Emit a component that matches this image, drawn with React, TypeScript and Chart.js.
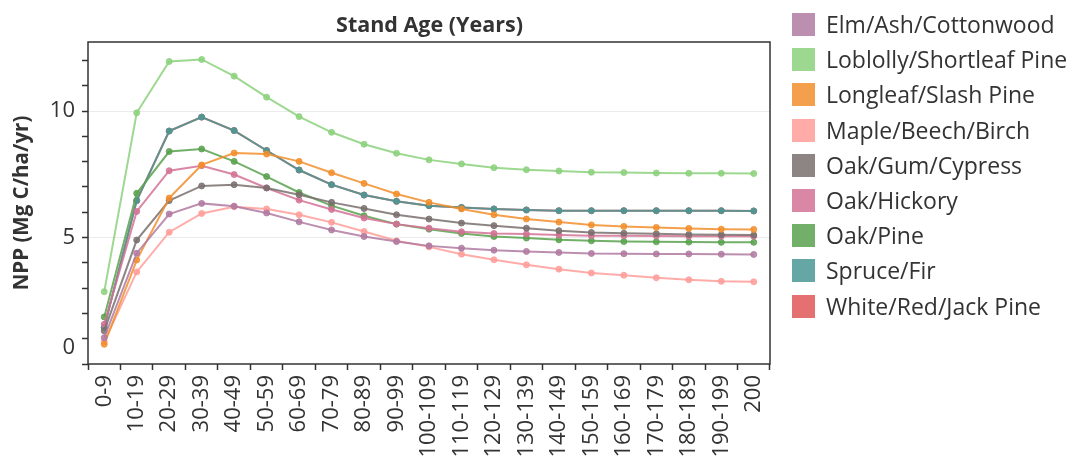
import React, { useEffect, useRef } from "react";
import { Chart, registerables } from "chart.js";

Chart.register(...registerables);

// ---------- data ----------
const ageClasses = [
  "0-9", "10-19", "20-29", "30-39", "40-49", "50-59", "60-69", "70-79", "80-89", "90-99",
  "100-109", "110-119", "120-129", "130-139", "140-149", "150-159", "160-169", "170-179",
  "180-189", "190-199", "200",
];

const elmAshCottonwood = [1.04, 4.38, 5.93, 6.35, 6.24, 5.97, 5.62, 5.30, 5.04, 4.84, 4.67, 4.58, 4.50, 4.45, 4.41, 4.37, 4.36, 4.35, 4.35, 4.34, 4.33];
const loblollyShortleafPine = [2.86, 9.93, 11.96, 12.04, 11.38, 10.55, 9.78, 9.16, 8.69, 8.33, 8.07, 7.91, 7.76, 7.68, 7.63, 7.58, 7.57, 7.55, 7.54, 7.54, 7.53];
const longleafSlashPine = [0.78, 4.11, 6.56, 7.87, 8.34, 8.30, 8.01, 7.56, 7.14, 6.72, 6.39, 6.13, 5.90, 5.73, 5.61, 5.50, 5.44, 5.40, 5.36, 5.33, 5.32];
const mapleBeechBirch = [0.88, 3.64, 5.21, 5.95, 6.22, 6.13, 5.90, 5.60, 5.24, 4.87, 4.63, 4.34, 4.12, 3.92, 3.75, 3.60, 3.51, 3.41, 3.33, 3.27, 3.25];
const oakGumCypress = [1.31, 4.90, 6.46, 7.04, 7.09, 6.96, 6.69, 6.39, 6.15, 5.90, 5.73, 5.57, 5.47, 5.37, 5.27, 5.20, 5.17, 5.15, 5.12, 5.11, 5.10];
const oakHickory = [1.57, 6.03, 7.64, 7.84, 7.49, 6.96, 6.48, 6.11, 5.77, 5.53, 5.37, 5.23, 5.16, 5.14, 5.10, 5.07, 5.07, 5.06, 5.05, 5.05, 5.05];
const oakPine = [1.86, 6.75, 8.40, 8.50, 8.01, 7.41, 6.78, 6.26, 5.86, 5.53, 5.33, 5.16, 5.04, 4.98, 4.91, 4.87, 4.84, 4.83, 4.82, 4.81, 4.81];
const spruceFir = [1.45, 6.46, 9.21, 9.76, 9.23, 8.44, 7.67, 7.09, 6.68, 6.43, 6.26, 6.19, 6.13, 6.09, 6.06, 6.06, 6.06, 6.06, 6.06, 6.06, 6.05];
const whiteRedJackPine = [1.45, 6.46, 9.21, 9.76, 9.23, 8.44, 7.67, 7.09, 6.68, 6.43, 6.26, 6.19, 6.13, 6.09, 6.06, 6.06, 6.06, 6.06, 6.06, 6.06, 6.05];

const seriesNames = [
  "Elm/Ash/Cottonwood",
  "Loblolly/Shortleaf Pine",
  "Longleaf/Slash Pine",
  "Maple/Beech/Birch",
  "Oak/Gum/Cypress",
  "Oak/Hickory",
  "Oak/Pine",
  "Spruce/Fir",
  "White/Red/Jack Pine",
];
const seriesValues = [
  elmAshCottonwood,
  loblollyShortleafPine,
  longleafSlashPine,
  mapleBeechBirch,
  oakGumCypress,
  oakHickory,
  oakPine,
  spruceFir,
  whiteRedJackPine,
];
const seriesColors = [
  "176,122,161",
  "140,209,125",
  "242,142,43",
  "255,157,154",
  "121,112,110",
  "211,114,149",
  "89,161,79",
  "73,152,148",
  "225,87,89",
];

const chartTitle = "Stand Age (Years)";
const yAxisTitle = "NPP (Mg C/ha/yr)";
const yTickLabels = [0, 5, 10];
const yMin = 0;
const yMax = 12.73;

const FONT = "'Open Sans', 'Noto Sans', sans-serif";
const TEXT = "#333333";

const frameAndLabels = {
  id: "frameAndLabels",
  beforeDatasetsDraw(chart: any) {
    const { ctx, chartArea: a } = chart;
    ctx.save();
    ctx.strokeStyle = "#333333";
    ctx.lineWidth = 1.5;
    ctx.strokeRect(a.left, a.top, a.right - a.left, a.bottom - a.top);
    ctx.restore();
  },
  afterDraw(chart: any) {
    const { ctx, chartArea: a } = chart;
    const y = chart.scales.y;
    ctx.save();
    ctx.font = `22px ${FONT}`;
    ctx.fillStyle = TEXT;
    ctx.textAlign = "right";
    ctx.textBaseline = "middle";
    for (const v of yTickLabels) {
      const py = Math.min(y.getPixelForValue(v), a.bottom - 16);
      ctx.fillText(String(v), y.right - 13, py);
    }
    ctx.restore();
  },
};

export default function App() {
  const ref = useRef<HTMLCanvasElement | null>(null);

  useEffect(() => {
    document.body.style.margin = "0";
    const canvas = ref.current;
    if (!canvas) return;
    const chart = new Chart(canvas, {
      type: "line",
      data: {
        labels: ageClasses,
        datasets: seriesNames.map((name, i) => ({
          label: name,
          data: seriesValues[i],
          borderColor: `rgba(${seriesColors[i]},0.85)`,
          backgroundColor: `rgba(${seriesColors[i]},0.85)`,
          pointBackgroundColor: `rgba(${seriesColors[i]},0.85)`,
          pointBorderColor: `rgba(${seriesColors[i]},0.85)`,
          borderWidth: 2,
          pointRadius: 3,
          pointBorderWidth: 1,
          pointHoverRadius: 3,
          tension: 0,
          fill: false,
        })),
      },
      options: {
        animation: false,
        responsive: false,
        devicePixelRatio: 1,
        events: [],
        layout: { padding: { top: 42, right: 302, left: 0, bottom: 0 } },
        plugins: {
          legend: { display: false },
          title: { display: false },
          tooltip: { enabled: false },
        },
        scales: {
          x: {
            type: "category",
            offset: true,
            border: { display: false },
            grid: {
              offset: true,
              drawOnChartArea: false,
              drawTicks: true,
              tickLength: 6,
              tickColor: "#333333",
              tickWidth: 1.5,
            },
            ticks: {
              autoSkip: false,
              maxRotation: 90,
              minRotation: 90,
              padding: 5,
              color: TEXT,
              font: { family: FONT, size: 22 },
            },
            afterFit: (scale: any) => {
              scale.height = 100;
            },
          },
          y: {
            type: "linear",
            min: yMin,
            max: yMax,
            border: { display: false },
            grid: {
              drawTicks: true,
              tickLength: 6,
              tickWidth: 1.5,
              color: (ctx: any) => {
                const v = ctx.tick ? ctx.tick.value : -1;
                return v > 0 && v % 5 === 0 ? "#ebebeb" : "rgba(0,0,0,0)";
              },
              tickColor: (ctx: any) => {
                const v = ctx.tick ? ctx.tick.value : -1;
                return Number.isInteger(v) ? "#333333" : "rgba(0,0,0,0)";
              },
            },
            ticks: {
              stepSize: 1,
              maxTicksLimit: 30,
              padding: 7,
              callback: () => "",
            },
            title: {
              display: true,
              text: yAxisTitle,
              color: TEXT,
              font: { family: FONT, size: 20.5, weight: "bold" },
              padding: { top: 10, bottom: 0 },
            },
            afterFit: (scale: any) => {
              scale.width = 88;
            },
          },
        },
      },
      plugins: [frameAndLabels],
    });
    return () => chart.destroy();
  }, []);

  return (
    <div style={{ position: "relative", width: 1072, height: 464, background: "#fff", overflow: "hidden" }}>
      <canvas ref={ref} width={1072} height={464} style={{ position: "absolute", left: 0, top: 0, width: 1072, height: 464 }} />
      <div
        style={{
          position: "absolute",
          left: 88,
          width: 683,
          top: 11,
          textAlign: "center",
          fontFamily: FONT,
          fontWeight: "bold",
          fontSize: 21.5,
          lineHeight: "26px",
          color: TEXT,
          whiteSpace: "nowrap",
        }}
      >
        {chartTitle}
      </div>
      <div style={{ position: "absolute", left: 792, top: 13, fontFamily: FONT, color: TEXT }}>
        {seriesNames.map((name, i) => (
          <div key={name} style={{ display: "flex", alignItems: "center", height: 23, marginBottom: 12.2 }}>
            <div style={{ width: 23, height: 23, background: `rgba(${seriesColors[i]},0.85)`, flex: "none" }} />
            <div style={{ marginLeft: 11, fontSize: 23, lineHeight: "23px", whiteSpace: "nowrap" }}>{name}</div>
          </div>
        ))}
      </div>
    </div>
  );
}
